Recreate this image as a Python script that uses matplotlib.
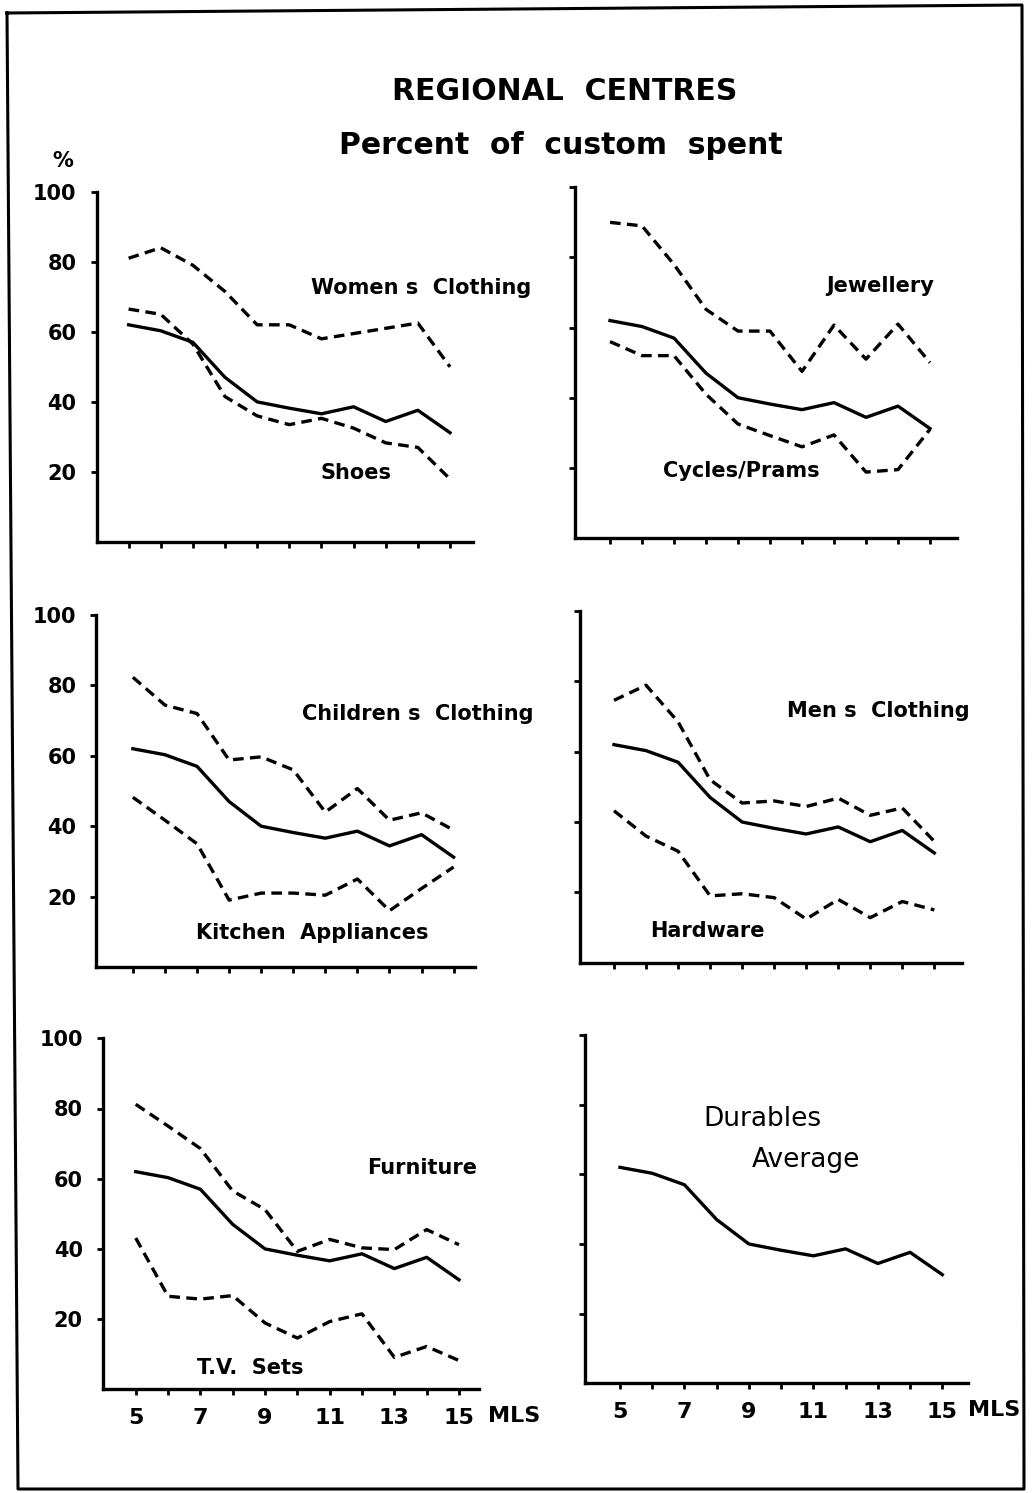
import matplotlib
matplotlib.use("Agg")
import matplotlib.pyplot as plt
from matplotlib.lines import Line2D

# ---- data -------------------------------------------------------------
mls = [5, 6, 7, 8, 9, 10, 11, 12, 13, 14, 15]

durables_average = [62, 60.3, 57, 47, 40, 38.2, 36.6, 38.6, 34.4, 37.6, 31.2]

womens_clothing = [81, 84, 79, 71.5, 62, 62, 58, 59.5, 61, 62.5, 50]
shoes = [66.5, 65, 56.5, 41.5, 36, 33.5, 35.3, 32.5, 28.3, 27, 18]

jewellery = [90, 89, 78, 65.2, 59, 59, 47.5, 60.7, 51, 61, 50]
cycles_prams = [56, 52, 52, 41, 32.5, 29.2, 26, 29.4, 18.8, 19.5, 31]

childrens_clothing = [82.3, 74.4, 72, 58.8, 59.7, 56, 44, 50.7, 41.7, 43.8, 38.9]
kitchen_appliances = [48.2, 41.7, 35, 19, 21, 21, 20.4, 25, 16, 22.3, 28.4]

mens_clothing = [74.6, 78.9, 68.5, 52, 45.4, 46, 44.4, 46.8, 41.9, 44, 34.5]
hardware = [43.2, 36, 31.7, 19, 19.6, 18.5, 12.4, 18, 12.8, 17.4, 15]

furniture = [81.2, 75, 68.6, 56.5, 51.2, 39.3, 42.7, 40.3, 39.8, 45.5, 41.2]
tv_sets = [43.1, 26.5, 25.7, 26.7, 18.9, 14.6, 19.3, 21.5, 9.1, 12.2, 8.2]

y_ticks = [20, 40, 60, 80, 100]
y_tick_labels = ["20", "40", "60", "80", "100"]
x_ticks = list(range(5, 16))
x_tick_labels = ["5", "", "7", "", "9", "", "11", "", "13", "", "15"]

# ---- figure -----------------------------------------------------------
W, H = 1035, 1493
fig = plt.figure(figsize=(W / 100, H / 100), dpi=100)
fig.patch.set_facecolor("white")

FONT = ["DejaVu Sans"]


def fx(x):
    return x / W


def fy(y):
    return 1 - y / H


def ftext(x, y, s, **kw):
    fig.text(fx(x), fy(y), s, ha="center", va="center", **kw)


# outer frame
frame = [(7, 13), (1022, 5), (1024, 1489), (18, 1489), (7, 13)]
fig.add_artist(Line2D([fx(p[0]) for p in frame], [fy(p[1]) for p in frame],
                      color="black", lw=2.2, transform=fig.transFigure))

# titles
ftext(565, 91, "REGIONAL  CENTRES", fontsize=21.5, fontweight="bold", family=FONT)
ftext(561, 145, "Percent  of  custom  spent", fontsize=21.5, fontweight="bold",
      family=FONT)
ftext(63, 161, "%", fontsize=15, fontweight="bold", family=FONT)

# panel geometry in pixels: left, right, x(5), x(15), y(100), y(0)
panels = [
    dict(geom=(96.5, 473, 128.6, 450, 191.7, 542.0), series=[womens_clothing, shoes],
         labels=[("Women s  Clothing", 421, 288), ("Shoes", 356, 473)],
         ylab=True, xlab=False),
    dict(geom=(575, 957, 610, 930, 187.3, 538.0), series=[jewellery, cycles_prams],
         labels=[("Jewellery", 880, 286), ("Cycles/Prams", 741, 471)],
         ylab=False, xlab=False),
    dict(geom=(96.4, 475, 132.9, 453.6, 615, 967), series=[childrens_clothing, kitchen_appliances],
         labels=[("Children s  Clothing", 418, 714), ("Kitchen  Appliances", 312, 933)],
         ylab=True, xlab=False),
    dict(geom=(580, 961.7, 614, 934.3, 611, 962.7), series=[mens_clothing, hardware],
         labels=[("Men s  Clothing", 878, 711), ("Hardware", 707, 931)],
         ylab=False, xlab=False),
    dict(geom=(102.9, 478.6, 135.7, 459, 1038.3, 1389.3), series=[furniture, tv_sets],
         labels=[("Furniture", 422, 1168), ("T.V.  Sets", 250, 1368)],
         ylab=True, xlab=True),
    dict(geom=(585, 968.3, 620, 942.3, 1035, 1383.3), series=[],
         labels=[], ylab=False, xlab=True),
]

LW = 2.4
for p in panels:
    left, right, x5, x15, ytop, ybot = p["geom"]
    ax = fig.add_axes([fx(left), fy(ybot), (right - left) / W, (ybot - ytop) / H])
    ppu = (x15 - x5) / 10.0
    ax.set_xlim(5 - (x5 - left) / ppu, 15 + (right - x15) / ppu)
    ax.set_ylim(0, 100)
    ax.patch.set_alpha(0)

    for s in ("top", "right"):
        ax.spines[s].set_visible(False)
    for s in ("left", "bottom"):
        ax.spines[s].set_linewidth(2.4)
        ax.spines[s].set_capstyle("projecting")

    ax.plot(mls, durables_average, color="black", lw=LW, solid_joinstyle="round")
    for ser in p["series"]:
        ax.plot(mls, ser, color="black", lw=LW, linestyle=(0, (3.2, 1.9)),
                dash_capstyle="butt")

    ax.set_yticks(y_ticks)
    ax.set_xticks(x_ticks)
    ax.tick_params(axis="both", direction="out", width=2.0, length=4.5,
                   color="black")
    ax.tick_params(axis="y", pad=10)
    ax.tick_params(axis="x", pad=9)
    if p["ylab"]:
        ax.set_yticklabels(y_tick_labels, fontsize=15, fontweight="bold",
                           family=FONT)
    else:
        ax.set_yticklabels([])
    if p["xlab"]:
        ax.set_xticklabels(x_tick_labels, fontsize=16, fontweight="bold",
                           family=FONT)
    else:
        ax.set_xticklabels([])

    for text, tx, ty in p["labels"]:
        ftext(tx, ty, text, fontsize=15, fontweight="bold", family=FONT)

# axis unit labels
ftext(514, 1416, "MLS", fontsize=16, fontweight="bold", family=FONT)
ftext(994, 1410, "MLS", fontsize=16, fontweight="bold", family=FONT)

# durables panel caption
ftext(762, 1119, "Durables", fontsize=19, family=FONT)
ftext(806, 1160, "Average", fontsize=19, family=FONT)

fig.savefig("out.png", dpi=100, facecolor="white")
